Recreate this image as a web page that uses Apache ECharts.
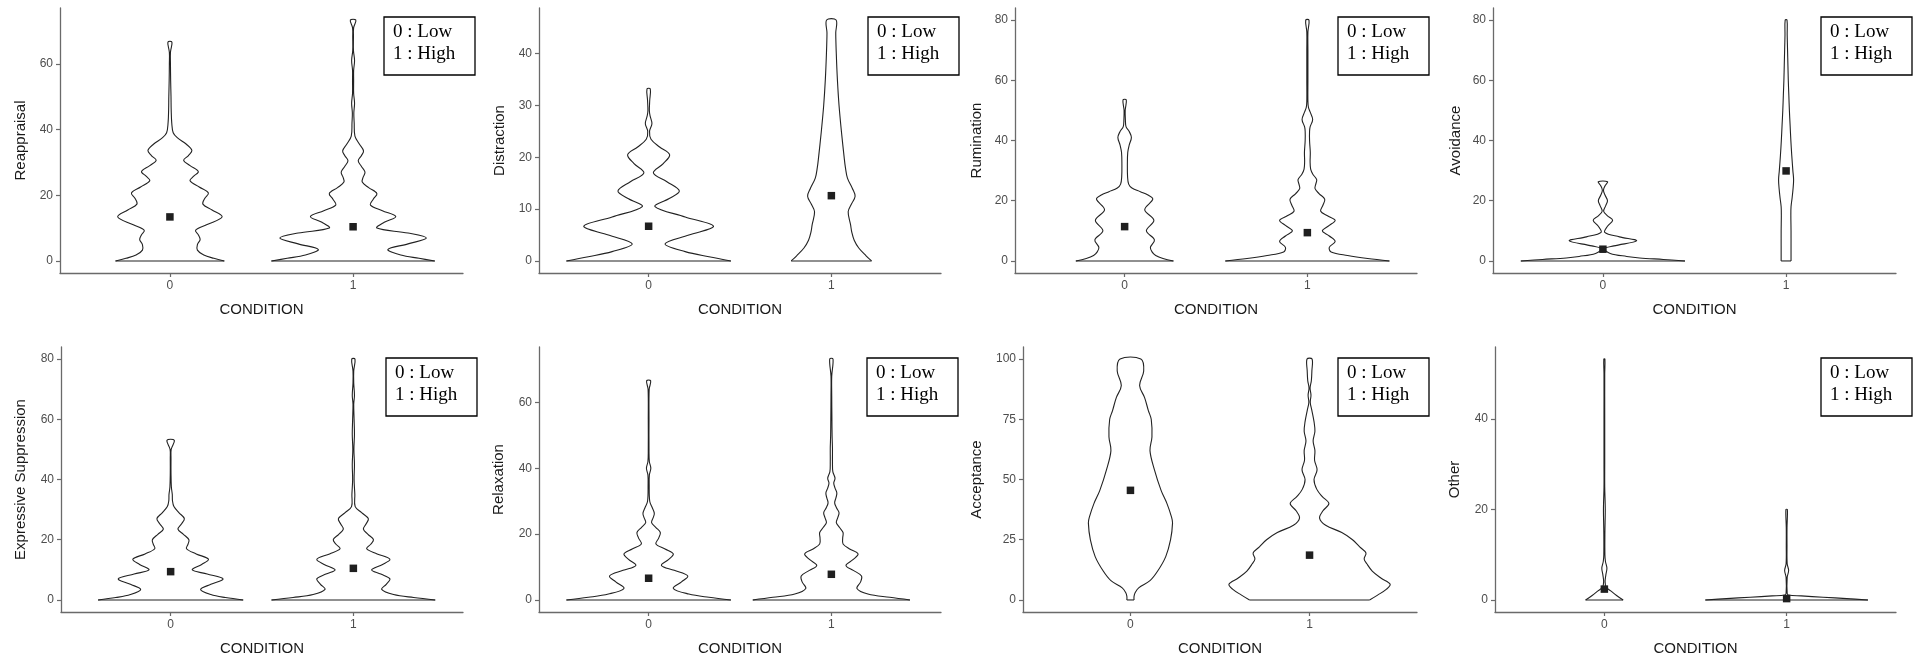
<!DOCTYPE html>
<html><head><meta charset="utf-8">
<script src="https://cdn.jsdelivr.net/npm/echarts@6/dist/echarts.min.js"></script>
<style>html,body{margin:0;padding:0;background:#fff}#c{width:1919px;height:662px}</style>
</head><body><div id="c"></div>
<script>
// ---------- DATA ----------
const conditions = [0, 1];
const legendLines = ['0 : Low', '1 : High'];
const xAxisTitle = 'CONDITION';
const measureNames = ['Reappraisal','Distraction','Rumination','Avoidance','Expressive Suppression','Relaxation','Acceptance','Other'];

// violin profiles: [score, half-width in condition units]
const reappraisalLow = [[0,0.297],[0.8,0.24],[1.8,0.185],[3.3,0.15],[5,0.15],[6.5,0.165],[8,0.155],[9.3,0.14],[11,0.2],[13.4,0.285],[15.5,0.23],[17.3,0.18],[19,0.19],[20.7,0.21],[22.5,0.16],[24.4,0.11],[25.8,0.13],[27.2,0.155],[29,0.11],[30.6,0.075],[32,0.1],[33.6,0.12],[35.5,0.09],[37.5,0.04],[39,0.018],[42,0.01],[46,0.007],[50,0.006],[55,0.004],[60,0.003],[63.5,0.003],[66.6,0.011]];
const reappraisalHigh = [[0,0.446],[0.8,0.36],[1.8,0.26],[3.5,0.19],[5.2,0.3],[7,0.4],[8.5,0.3],[10,0.13],[11.8,0.17],[13.5,0.233],[15.3,0.16],[17,0.095],[18.8,0.11],[20.5,0.13],[22.3,0.085],[24,0.05],[25.5,0.055],[27,0.065],[28.8,0.045],[30.5,0.028],[32,0.045],[33.5,0.057],[35.5,0.035],[38,0.01],[42,0.006],[45,0.004],[48,0.008],[51,0.003],[55,0.003],[58,0.003],[61,0.008],[64,0.002],[68,0.002],[71,0.003],[73.3,0.015]];
const distractionLow = [[0,0.45],[0.8,0.33],[1.8,0.2],[3.3,0.09],[5,0.22],[6.7,0.355],[8.5,0.2],[10.5,0.035],[12,0.11],[13.5,0.168],[15.3,0.1],[17,0.026],[18.8,0.08],[20.5,0.115],[22,0.06],[23.5,0.013],[25,0.005],[26.5,0.018],[28,0.008],[29,0.004],[31,0.006],[33.2,0.009]];
const distractionHigh = [[0,0.22],[1,0.19],[2.5,0.15],[4,0.125],[5.5,0.112],[7,0.105],[9.5,0.092],[11,0.11],[12.5,0.13],[14,0.115],[16,0.088],[18,0.077],[20,0.07],[25,0.055],[30,0.042],[35,0.033],[40,0.027],[44,0.024],[46.5,0.026]];
const ruminationLow = [[0,0.267],[0.8,0.21],[1.8,0.17],[3,0.15],[4.5,0.141],[7,0.163],[10,0.119],[13.5,0.16],[17,0.11],[20.5,0.154],[22,0.125],[23,0.086],[24.2,0.04],[25.5,0.022],[28,0.016],[32,0.015],[36,0.017],[38.5,0.025],[41,0.037],[43,0.025],[44.5,0.008],[47,0.004],[50,0.003],[53.5,0.009]];
const ruminationHigh = [[0,0.449],[0.8,0.33],[1.8,0.22],[3,0.13],[4.5,0.12],[6.5,0.152],[8.3,0.12],[10,0.082],[11.8,0.12],[13.5,0.152],[15,0.11],[16.5,0.073],[18.5,0.085],[20.5,0.095],[22.3,0.065],[24,0.042],[25.5,0.046],[27,0.051],[28.8,0.03],[30.5,0.018],[33,0.015],[36,0.016],[40,0.012],[43,0.012],[44.5,0.015],[47,0.029],[49.5,0.015],[51,0.006],[53,0.003],[60,0.003],[70,0.003],[76,0.003],[80,0.009]];
const avoidanceLow = [[0,0.448],[0.5,0.33],[1,0.2],[1.5,0.13],[2.5,0.04],[4,0.007],[5,0.06],[6.7,0.184],[8,0.09],[9.5,0.01],[11.5,0.025],[13.5,0.053],[15,0.025],[16.5,0.004],[18.3,0.015],[20,0.025],[21.8,0.012],[23.5,0.003],[25,0.012],[26.3,0.025]];
const avoidanceHigh = [[0,0.027],[5,0.027],[10,0.027],[15,0.026],[18,0.027],[21,0.033],[24,0.038],[27,0.041],[30,0.037],[35,0.031],[40,0.026],[45,0.022],[50,0.018],[55,0.015],[60,0.012],[65,0.01],[70,0.008],[75,0.006],[80,0.005]];
const suppressionLow = [[0,0.397],[0.8,0.3],[1.8,0.22],[3.5,0.164],[5.2,0.22],[7,0.287],[8.6,0.2],[10,0.118],[11.8,0.17],[13.5,0.207],[15.3,0.14],[17,0.087],[18.5,0.095],[20,0.1],[21.8,0.07],[23.5,0.04],[25.3,0.06],[27,0.075],[29,0.045],[31,0.018],[33,0.01],[35,0.009],[37.5,0.004],[42,0.002],[47,0.002],[50,0.003],[53,0.02]];
const suppressionHigh = [[0,0.448],[0.8,0.33],[1.8,0.22],[3.5,0.155],[5.2,0.18],[7,0.2],[8.6,0.15],[10,0.1],[11.8,0.16],[13.5,0.2],[15.3,0.13],[17,0.073],[18.5,0.095],[20,0.11],[21.8,0.08],[23.5,0.055],[25.3,0.07],[27,0.082],[29,0.045],[31,0.01],[35,0.008],[40,0.004],[45,0.006],[50,0.003],[55,0.006],[60,0.004],[65,0.002],[68,0.006],[72,0.002],[76,0.002],[80,0.009]];
const relaxationLow = [[0,0.45],[0.8,0.33],[1.8,0.22],[3.5,0.135],[5.5,0.18],[7.3,0.214],[9,0.14],[10.5,0.07],[12.3,0.11],[14,0.135],[15.5,0.09],[17,0.04],[18.8,0.055],[20.5,0.064],[22,0.04],[23.5,0.016],[25,0.025],[26.3,0.031],[28,0.02],[30,0.006],[35,0.003],[38,0.004],[40,0.012],[42,0.004],[45,0.002],[55,0.002],[64,0.003],[66.6,0.011]];
const relaxationHigh = [[0,0.43],[0.8,0.32],[1.8,0.2],[3.5,0.14],[5.5,0.16],[7.3,0.165],[9,0.12],[10.5,0.08],[12.3,0.12],[14,0.146],[15.5,0.1],[17,0.064],[18.8,0.062],[20.5,0.064],[22,0.045],[23.5,0.027],[25,0.035],[26.5,0.042],[28,0.028],[29.5,0.018],[31,0.025],[32.5,0.03],[34,0.02],[35.5,0.013],[37,0.02],[39,0.008],[42,0.006],[46,0.006],[50,0.004],[55,0.003],[62,0.002],[68,0.002],[73.2,0.009]];
const acceptanceLow = [[0,0.02],[1.5,0.02],[3,0.026],[5,0.046],[8,0.109],[12,0.152],[18,0.197],[25,0.224],[32,0.235],[34.5,0.229],[40,0.204],[45.5,0.171],[54,0.134],[62,0.109],[67.6,0.12],[75,0.116],[78.6,0.1],[84,0.079],[89,0.051],[95,0.074],[100,0.058]];
const acceptanceHigh = [[0,0.335],[2,0.38],[4.5,0.43],[6.5,0.45],[9,0.4],[12,0.35],[15,0.32],[17,0.305],[19.5,0.315],[22,0.28],[25,0.24],[28,0.18],[31,0.09],[34,0.056],[37,0.075],[40,0.108],[43,0.07],[46,0.04],[50,0.025],[54,0.042],[58,0.028],[62,0.03],[66,0.02],[70,0.03],[74,0.025],[79,0.012],[82,0.004],[85,0.008],[88,0.003],[91,0.01],[95,0.013],[100,0.014]];
const otherLow = [[0,0.103],[1,0.067],[2,0.035],[2.8,0.01],[4,0.004],[5.5,0.008],[7,0.014],[8.5,0.006],[10,0.003],[15,0.003],[20,0.005],[25,0.002],[30,0.002],[40,0.002],[50,0.002],[53.3,0.003]];
const otherHigh = [[0,0.446],[0.3,0.33],[0.6,0.2],[0.9,0.08],[1.1,0.01],[1.5,0.003],[5,0.003],[6.5,0.011],[8,0.003],[12,0.002],[16,0.002],[20,0.004]];

// group means (square markers)
const reappraisalMeans = [13.4, 10.4];
const distractionMeans = [6.7, 12.6];
const ruminationMeans = [11.4, 9.4];
const avoidanceMeans = [3.9, 29.9];
const suppressionMeans = [9.4, 10.5];
const relaxationMeans = [6.6, 7.8];
const acceptanceMeans = [45.5, 18.6];
const otherMeans = [2.4, 0.3];

// y tick labels
const reappraisalTicks = [0, 20, 40, 60];
const distractionTicks = [0, 10, 20, 30, 40];
const ruminationTicks = [0, 20, 40, 60, 80];
const avoidanceTicks = [0, 20, 40, 60, 80];
const suppressionTicks = [0, 20, 40, 60, 80];
const relaxationTicks = [0, 20, 40, 60];
const acceptanceTicks = [0, 25, 50, 75, 100];
const otherTicks = [0, 20, 40];

const panels = [
  {profiles: [reappraisalLow, reappraisalHigh], means: reappraisalMeans, ticks: reappraisalTicks},
  {profiles: [distractionLow, distractionHigh], means: distractionMeans, ticks: distractionTicks},
  {profiles: [ruminationLow, ruminationHigh], means: ruminationMeans, ticks: ruminationTicks},
  {profiles: [avoidanceLow, avoidanceHigh], means: avoidanceMeans, ticks: avoidanceTicks},
  {profiles: [suppressionLow, suppressionHigh], means: suppressionMeans, ticks: suppressionTicks},
  {profiles: [relaxationLow, relaxationHigh], means: relaxationMeans, ticks: relaxationTicks},
  {profiles: [acceptanceLow, acceptanceHigh], means: acceptanceMeans, ticks: acceptanceTicks},
  {profiles: [otherLow, otherHigh], means: otherMeans, ticks: otherTicks}
];

// ---------- LAYOUT ----------
const layout = [
  {left: 60, top: 8, width: 403, height: 265, nameGap: 32, box: [384, 17]},
  {left: 539, top: 8, width: 402, height: 265, nameGap: 32, box: [868, 17]},
  {left: 1015, top: 8, width: 402, height: 265, nameGap: 31, box: [1338, 17]},
  {left: 1493, top: 8, width: 403, height: 265, nameGap: 30, box: [1821, 17]},
  {left: 61, top: 347, width: 402, height: 265, nameGap: 33, box: [386, 358]},
  {left: 539, top: 347, width: 402, height: 265, nameGap: 33, box: [867, 358]},
  {left: 1023, top: 347, width: 394, height: 265, nameGap: 39, box: [1338, 358]},
  {left: 1495, top: 347, width: 401, height: 265, nameGap: 33, box: [1821, 358]}
];

const SANS = '"Liberation Sans", Arial, Helvetica, sans-serif';
const SERIF = '"Liberation Serif", "Times New Roman", serif';
const AXIS_COLOR = '#6a6a6a';
const LABEL_COLOR = '#4d4d4d';

function makeRender(profiles) {
  return function (params, api) {
    const c = api.value(0);
    const prof = profiles[params.dataIndex];
    const left = prof.map(p => api.coord([c - p[1], p[0]]));
    const right = prof.slice().reverse().map(p => api.coord([c + p[1], p[0]]));
    const pts = left.concat(right);
    const b0 = left[0], b1 = right[right.length - 1];
    return {
      type: 'group',
      children: [
        {type: 'polyline', shape: {points: pts, smooth: 0.35}, style: {fill: null, stroke: '#222', lineWidth: 1.1}},
        {type: 'line', shape: {x1: b0[0], y1: b0[1], x2: b1[0], y2: b1[1]}, style: {stroke: '#222', lineWidth: 1.1}}
      ]
    };
  };
}

const grid = [], xAxis = [], yAxis = [], series = [], graphic = [];
panels.forEach((p, i) => {
  const L = layout[i];
  const dataMax = Math.max(p.profiles[0][p.profiles[0].length - 1][0], p.profiles[1][p.profiles[1].length - 1][0]);
  const pad = dataMax * 0.05;
  grid.push({left: L.left, top: L.top, width: L.width, height: L.height, containLabel: false});
  xAxis.push({
    type: 'value', gridIndex: i, min: -0.6, max: 1.6,
    name: xAxisTitle, nameLocation: 'middle', nameGap: 29,
    nameTextStyle: {fontFamily: SANS, fontSize: 15, color: '#1a1a1a'},
    axisLine: {show: true, onZero: false, lineStyle: {color: AXIS_COLOR, width: 1.3}},
    axisTick: {show: true, length: 4, customValues: conditions, lineStyle: {color: AXIS_COLOR, width: 1.2}},
    axisLabel: {customValues: conditions, margin: 7, fontFamily: SANS, fontSize: 12, color: LABEL_COLOR},
    splitLine: {show: false}
  });
  yAxis.push({
    type: 'value', gridIndex: i, min: -pad, max: dataMax + pad,
    name: measureNames[i], nameLocation: 'middle', nameGap: L.nameGap, nameRotate: 90,
    nameTextStyle: {fontFamily: SANS, fontSize: 15, color: '#1a1a1a'},
    axisLine: {show: true, onZero: false, lineStyle: {color: AXIS_COLOR, width: 1.3}},
    axisTick: {show: true, length: 4, customValues: p.ticks, lineStyle: {color: AXIS_COLOR, width: 1.2}},
    axisLabel: {customValues: p.ticks, margin: 7, fontFamily: SANS, fontSize: 12, color: LABEL_COLOR},
    splitLine: {show: false}
  });
  series.push({
    type: 'custom', coordinateSystem: 'cartesian2d', xAxisIndex: i, yAxisIndex: i,
    data: conditions.map(c => [c, 0]), encode: {x: 0, y: 1},
    renderItem: makeRender(p.profiles), clip: false, silent: true, z: 2
  });
  series.push({
    type: 'scatter', xAxisIndex: i, yAxisIndex: i,
    data: conditions.map((c, k) => [c, p.means[k]]),
    symbol: 'rect', symbolSize: 7.5, itemStyle: {color: '#1f1f1f', opacity: 1}, silent: true, z: 5
  });
  const [bx, by] = L.box;
  graphic.push({type: 'rect', z: 100, shape: {x: bx, y: by, width: 91, height: 58},
    style: {fill: '#fff', stroke: '#000', lineWidth: 1.3}});
  graphic.push({type: 'text', z: 101, x: bx + 9, y: by + 15,
    style: {text: legendLines[0], font: '19px ' + SERIF, fill: '#000', verticalAlign: 'middle', align: 'left'}});
  graphic.push({type: 'text', z: 101, x: bx + 9, y: by + 37,
    style: {text: legendLines[1], font: '19px ' + SERIF, fill: '#000', verticalAlign: 'middle', align: 'left'}});
});

const chart = echarts.init(document.getElementById('c'), null, {renderer: 'canvas'});
chart.setOption({animation: false, backgroundColor: '#fff', grid, xAxis, yAxis, series, graphic});
</script>
</body></html>
